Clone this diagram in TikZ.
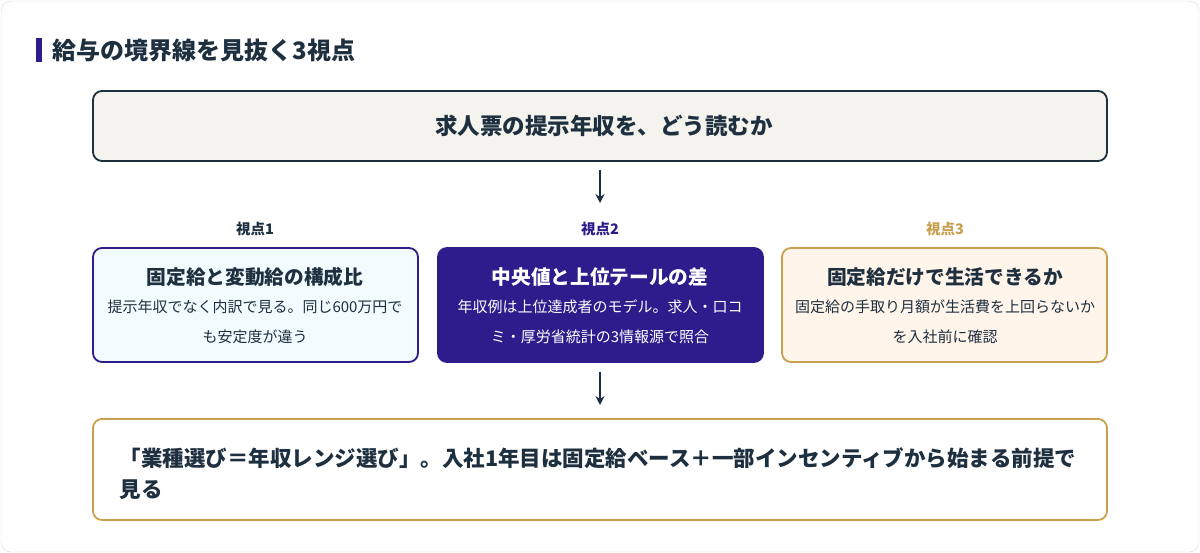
\documentclass[tikz,border=0pt]{standalone}
\usepackage{fontspec}
\setmainfont{Noto Sans CJK JP}
\usetikzlibrary{positioning, arrows.meta}
\definecolor{navy}{HTML}{1E2F3F}
\definecolor{violet}{HTML}{2E1C8C}
\definecolor{gold}{HTML}{C9A050}
\definecolor{paper}{HTML}{F4F3EE}
\tikzset{
  box/.style={draw, line width=1.8pt, rounded corners=9pt, align=center},
  head/.style={font=\fontsize{14.5}{16}\selectfont\bfseries},
  ttl/.style={font=\fontsize{19.7}{20}\selectfont\bfseries},
  body/.style={font=\fontsize{15}{30}\selectfont}
}
\begin{document}
\begin{tikzpicture}[x=1pt, y=-1pt, >=stealth]
    \draw[paper!80!gray, fill=white, rounded corners=10pt] (1,1) rectangle (1199,552);
    \useasboundingbox (0,0) rectangle (1200,553);
    \fill[violet] (36,38) rectangle (42,62);
    \node[anchor=west, font=\fontsize{24}{26}\selectfont\bfseries, text=navy] (title) at (49,50) {給与の境界線を見抜く3視点};

    \draw[box, draw=navy, fill=paper] (93,91) rectangle (1107,161);
    \node[font=\fontsize{22.5}{24}\selectfont\bfseries, text=navy] (top) at (604,126) {求人票の提示年収を、どう読むか};
    \coordinate (a1) at (600,170);
    \coordinate (a2) at (600,203);
    \draw[-{Stealth[length=9pt,width=9pt]}, line width=1.8pt, navy] (a1) -- (a2);

    \node[head, text=navy] (h1) at (255,229) {視点1};
    \node[head, text=violet] (h2) at (600,229) {視点2};
    \node[head, text=gold] (h3) at (945,229) {視点3};

    \draw[box, draw=violet, fill=cyan!5] (93,248) rectangle (418,362);
    \draw[box, draw=violet, fill=violet] (438,248) rectangle (763,362);
    \draw[box, draw=gold, fill=orange!8] (782,248) rectangle (1107,362);

    \node[ttl, text=navy] (t1) at (255,277) {固定給と変動給の構成比};
    \node[body, text=navy, align=center] (b1) at (255,322) {提示年収でなく内訳で見る。同じ600万円で\\も安定度が違う};
    \node[ttl, text=white] (t2) at (600,277) {中央値と上位テールの差};
    \node[body, text=white, align=center] (b2) at (600,322) {年収例は上位達成者のモデル。求人・口コ\\ミ・厚労省統計の3情報源で照合};
    \node[ttl, text=navy] (t3) at (945,277) {固定給だけで生活できるか};
    \node[body, text=navy, align=center] (b3) at (945,322) {固定給の手取り月額が生活費を上回らないか\\を入社前に確認};

    \coordinate (b1a) at (600,372);
    \coordinate (b2a) at (600,405);
    \draw[-{Stealth[length=9pt,width=9pt]}, line width=1.8pt, navy] (b1a) -- (b2a);

    \draw[box, draw=gold, fill=white] (93,419) rectangle (1107,520);
    \node[anchor=north west, text width=1000pt, align=left, font=\fontsize{21.5}{31}\selectfont\bfseries, text=navy] (bottom) at (116,444) {「業種選び＝年収レンジ選び」。入社1年目は固定給ベース＋一部インセンティブから始まる前提で\\見る};
\end{tikzpicture}
\end{document}
